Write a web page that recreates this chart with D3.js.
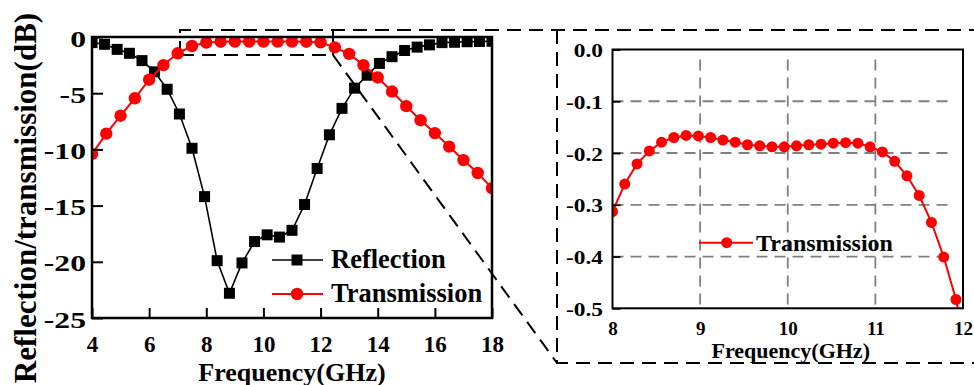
<!DOCTYPE html>
<html>
<head>
<meta charset="utf-8">
<script src="https://cdn.jsdelivr.net/npm/d3@7"></script>
<style>
  html, body { margin: 0; padding: 0; background: #fff; }
  svg { display: block; }
  text { font-family: "Liberation Serif", "Times New Roman", serif; font-weight: bold; fill: #000; }
</style>
</head>
<body>
<svg id="chart" width="974" height="385"></svg>
<script>
// ---------------- data ----------------
// Reflection (dB) sampled over 4-18 GHz
const reflFreq = [4.00, 4.44, 4.88, 5.31, 5.75, 6.19, 6.63, 7.06, 7.50, 7.94, 8.38,
                  8.81, 9.25, 9.69, 10.13, 10.56, 11.00, 11.44, 11.88, 12.31, 12.75, 13.19,
                  13.63, 14.06, 14.50, 14.94, 15.38, 15.81, 16.25, 16.69, 17.13, 17.56, 18.00];
const reflection = [-0.5, -0.65, -1.1, -1.45, -2.1, -3.1, -4.65, -6.85, -9.9, -14.2, -19.9,
                    -22.8, -20.1, -18.2, -17.6, -17.8, -17.2, -14.9, -11.7, -8.7, -6.35, -4.55,
                    -3.4, -2.35, -1.75, -1.2, -0.9, -0.7, -0.5, -0.47, -0.42, -0.4, -0.38];

// Transmission (dB) sampled over 4-18 GHz
const transFreq = [4.0, 4.5, 5.0, 5.5, 6.0, 6.5, 7.0, 7.5, 8.0, 8.5, 9.0, 9.5, 10.0, 10.5,
                   11.0, 11.5, 12.0, 12.5, 13.0, 13.5, 14.0, 14.5, 15.0, 15.5, 16.0, 16.5,
                   17.0, 17.5, 18.0];
const transmission = [-10.4, -8.6, -7.0, -5.45, -3.8, -2.5, -1.45, -0.8, -0.5, -0.42, -0.4,
                      -0.4, -0.4, -0.41, -0.41, -0.42, -0.48, -0.92, -1.5, -2.5, -3.6, -4.85,
                      -6.15, -7.4, -8.55, -9.75, -10.95, -12.1, -13.45];

// Transmission passband detail, 8-12 GHz
const zoomFreq = [8.00, 8.14, 8.28, 8.42, 8.56, 8.70, 8.84, 8.98, 9.12, 9.26, 9.40, 9.54,
                  9.68, 9.82, 9.96, 10.10, 10.24, 10.38, 10.52, 10.66, 10.80, 10.94, 11.08,
                  11.22, 11.36, 11.50, 11.64, 11.78, 11.92, 12.06];
const zoomTransmission = [-0.313, -0.260, -0.221, -0.196, -0.179, -0.170, -0.166, -0.167,
                          -0.170, -0.175, -0.179, -0.184, -0.186, -0.188, -0.188, -0.186,
                          -0.184, -0.183, -0.181, -0.180, -0.181, -0.188, -0.198, -0.216,
                          -0.244, -0.282, -0.334, -0.401, -0.483, -0.600];

const mainXTicks = [4, 6, 8, 10, 12, 14, 16, 18];
const mainYTicks = [0, -5, -10, -15, -20, -25];
const zoomXTicks = [8, 9, 10, 11, 12];
const zoomYTicks = [0, -0.1, -0.2, -0.3, -0.4, -0.5];
const zoomGridX = [9, 10, 11];
const zoomGridY = [-0.1, -0.2, -0.3, -0.4];
const seriesNames = ["Reflection", "Transmission"];
const xTitle = "Frequency(GHz)";
const yTitle = "Reflection/transmission(dB)";

// ---------------- setup ----------------
const RED = "#ff0000";
const svg = d3.select("#chart");
svg.append("rect").attr("width", 974).attr("height", 385).attr("fill", "#fff");
const defs = svg.append("defs");

function pairs(xs, ys) { return xs.map((f, i) => [f, ys[i]]); }

// ---------------- main panel ----------------
const M = { left: 92, right: 492, top: 37, bottom: 318 };
const x = d3.scaleLinear().domain([4, 18]).range([M.left, M.right]);
const y = d3.scaleLinear().domain([-25, 0]).range([M.bottom, M.top]);

defs.append("clipPath").attr("id", "clipMain").append("rect")
  .attr("x", M.left).attr("y", M.top).attr("width", M.right - M.left).attr("height", M.bottom - M.top);

// zoom-region guide (dashed outline linking to the detail panel)
const guide = svg.append("g").attr("fill", "none").attr("stroke", "#000")
  .attr("stroke-width", 2).attr("stroke-dasharray", "14,8");
guide.append("path").attr("d", "M180,55 L180,30 L974,30");
guide.append("path").attr("d", "M180,55 L333,55");
guide.append("path").attr("d", "M333,30 L333,55");
guide.append("path").attr("d", "M333,55 L557,363");
guide.append("path").attr("d", "M557,30 L557,363 L974,363");

const plotMain = svg.append("g").attr("clip-path", "url(#clipMain)");
const line = d3.line().x(d => x(d[0])).y(d => y(d[1]));

const reflData = pairs(reflFreq, reflection);
const transData = pairs(transFreq, transmission);

plotMain.append("path").datum(reflData).attr("d", line)
  .attr("fill", "none").attr("stroke", "#000").attr("stroke-width", 1.6);
plotMain.selectAll("rect.refl").data(reflData).join("rect").attr("class", "refl")
  .attr("x", d => x(d[0]) - 5.5).attr("y", d => y(d[1]) - 5.5)
  .attr("width", 11).attr("height", 11).attr("fill", "#000");

plotMain.append("path").datum(transData).attr("d", line)
  .attr("fill", "none").attr("stroke", RED).attr("stroke-width", 2);
plotMain.selectAll("circle.trans").data(transData).join("circle").attr("class", "trans")
  .attr("cx", d => x(d[0])).attr("cy", d => y(d[1])).attr("r", 6.2).attr("fill", RED);

// axes
const xAxisMain = svg.append("g").attr("transform", `translate(0,${M.bottom})`)
  .call(d3.axisBottom(x).tickValues(mainXTicks).tickSizeInner(-10).tickSizeOuter(0)
        .tickFormat(d => String(d)));
xAxisMain.select(".domain").remove();
xAxisMain.selectAll(".tick line").attr("stroke", "#000").attr("stroke-width", 2);
xAxisMain.selectAll(".tick text").attr("y", 34).attr("dy", null)
  .style("font-size", "23px").attr("fill", "#000");

const yAxisMain = svg.append("g").attr("transform", `translate(${M.left},0)`)
  .call(d3.axisLeft(y).tickValues(mainYTicks).tickSizeInner(-11).tickSizeOuter(0)
        .tickFormat(d => String(d)));
yAxisMain.select(".domain").remove();
yAxisMain.selectAll(".tick line").attr("stroke", "#000").attr("stroke-width", 2);
yAxisMain.selectAll(".tick text").attr("x", 0).attr("y", 9).attr("dy", null)
  .attr("text-anchor", "end").attr("transform", "translate(-6,0) scale(1.32,1)")
  .style("font-size", "24px").attr("fill", "#000");

svg.append("rect").attr("x", M.left).attr("y", M.top)
  .attr("width", M.right - M.left).attr("height", M.bottom - M.top)
  .attr("fill", "none").attr("stroke", "#000").attr("stroke-width", 2.5);

svg.append("text").attr("x", (M.left + M.right) / 2).attr("y", 380.5)
  .attr("text-anchor", "middle").style("font-size", "26px").text(xTitle);
svg.append("text").attr("transform", "translate(36,198) rotate(-90)")
  .attr("text-anchor", "middle").style("font-size", "31px").text(yTitle);

// legend
const leg = svg.append("g");
leg.append("line").attr("x1", 272).attr("x2", 323).attr("y1", 260).attr("y2", 260)
  .attr("stroke", "#000").attr("stroke-width", 1.6);
leg.append("rect").attr("x", 297 - 5.5).attr("y", 260 - 5.5).attr("width", 11).attr("height", 11).attr("fill", "#000");
leg.append("text").attr("x", 331).attr("y", 268).style("font-size", "26.5px").text(seriesNames[0]);
leg.append("line").attr("x1", 272).attr("x2", 323).attr("y1", 294).attr("y2", 294)
  .attr("stroke", RED).attr("stroke-width", 2);
leg.append("circle").attr("cx", 297).attr("cy", 294).attr("r", 6.2).attr("fill", RED);
leg.append("text").attr("x", 331).attr("y", 302).style("font-size", "26.5px").text(seriesNames[1]);

// ---------------- detail panel ----------------
const Z = { left: 612.5, right: 963, top: 49.5, bottom: 308.3 };
const xz = d3.scaleLinear().domain([8, 12]).range([Z.left, Z.right]);
const yz = d3.scaleLinear().domain([-0.5, 0]).range([Z.bottom, Z.top]);

defs.append("clipPath").attr("id", "clipZoom").append("rect")
  .attr("x", Z.left).attr("y", Z.top).attr("width", Z.right - Z.left).attr("height", Z.bottom - Z.top);

svg.append("rect").attr("x", Z.left).attr("y", Z.top)
  .attr("width", Z.right - Z.left).attr("height", Z.bottom - Z.top).attr("fill", "#fff");

const grid = svg.append("g").attr("stroke", "#808080").attr("stroke-width", 1.8)
  .attr("stroke-dasharray", "11,7");
grid.selectAll("line.gx").data(zoomGridX).join("line").attr("class", "gx")
  .attr("x1", d => xz(d)).attr("x2", d => xz(d)).attr("y1", Z.top + 10).attr("y2", Z.bottom);
grid.selectAll("line.gy").data(zoomGridY).join("line").attr("class", "gy")
  .attr("x1", Z.left).attr("x2", Z.right - 10).attr("y1", d => yz(d)).attr("y2", d => yz(d));

const zoomData = pairs(zoomFreq, zoomTransmission);
const lineZ = d3.line().x(d => xz(d[0])).y(d => yz(d[1]));
const plotZoom = svg.append("g").attr("clip-path", "url(#clipZoom)");
plotZoom.append("path").datum(zoomData).attr("d", lineZ)
  .attr("fill", "none").attr("stroke", RED).attr("stroke-width", 2);
plotZoom.selectAll("circle").data(zoomData).join("circle")
  .attr("cx", d => xz(d[0])).attr("cy", d => yz(d[1])).attr("r", 5.5).attr("fill", RED);

const xAxisZoom = svg.append("g").attr("transform", `translate(0,${Z.bottom})`)
  .call(d3.axisBottom(xz).tickValues(zoomXTicks).tickSizeInner(0).tickSizeOuter(0)
        .tickFormat(d => String(d)));
xAxisZoom.select(".domain").remove();
xAxisZoom.selectAll(".tick line").remove();
xAxisZoom.selectAll(".tick text").attr("y", 27).attr("dy", null)
  .style("font-size", "19px").attr("fill", "#000");

const yAxisZoom = svg.append("g").attr("transform", `translate(${Z.left},0)`)
  .call(d3.axisLeft(yz).tickValues(zoomYTicks).tickSizeInner(-8).tickSizeOuter(0)
        .tickFormat(d => d.toFixed(1)));
yAxisZoom.select(".domain").remove();
yAxisZoom.selectAll(".tick line").attr("stroke", "#000").attr("stroke-width", 1.8);
yAxisZoom.selectAll(".tick text").attr("x", 0).attr("y", 7).attr("dy", null)
  .attr("text-anchor", "end").attr("transform", "translate(-9.5,0) scale(1.3,1)")
  .style("font-size", "18px").attr("fill", "#000");

svg.append("rect").attr("x", Z.left).attr("y", Z.top)
  .attr("width", Z.right - Z.left).attr("height", Z.bottom - Z.top)
  .attr("fill", "none").attr("stroke", "#000").attr("stroke-width", 2);

svg.append("text").attr("x", (Z.left + Z.right) / 2 + 3).attr("y", 357.5)
  .attr("text-anchor", "middle").style("font-size", "22px").text(xTitle);

const legZ = svg.append("g");
legZ.append("line").attr("x1", 699).attr("x2", 753).attr("y1", 242.7).attr("y2", 242.7)
  .attr("stroke", RED).attr("stroke-width", 2);
legZ.append("circle").attr("cx", 726.7).attr("cy", 242.7).attr("r", 5.5).attr("fill", RED);
legZ.append("text").attr("x", 756).attr("y", 250.7).style("font-size", "24px").text(seriesNames[1]);
</script>
</body>
</html>
